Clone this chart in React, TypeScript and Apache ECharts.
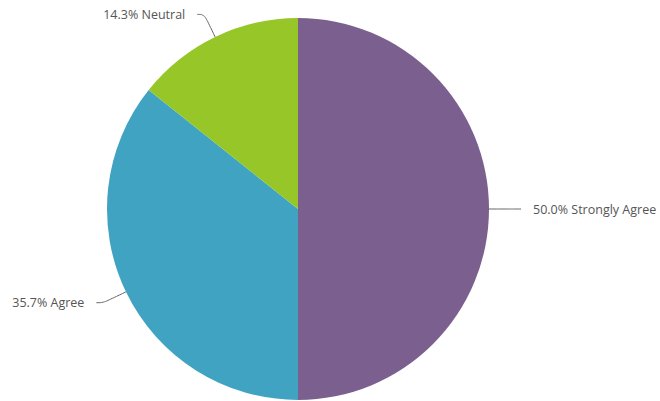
import React, { useEffect, useRef } from "react";
import * as echarts from "echarts";

const categories = ["Strongly Agree", "Agree", "Neutral"];
const values = [7, 5, 2];
const colors = ["#7B5F8E", "#40A3C2", "#96C628"];

export default function App() {
  const ref = useRef<HTMLDivElement>(null);
  useEffect(() => {
    if (!ref.current) return;
    const chart = echarts.init(ref.current, null, { renderer: "svg" });
    chart.setOption({
      animation: false,
      color: colors,
      series: [
        {
          type: "pie",
          center: [298, 209],
          radius: [0, 191],
          startAngle: 90,
          clockwise: true,
          percentPrecision: 1,
          data: categories.map((c, i) => ({ name: c, value: values[i] })),
          itemStyle: { borderWidth: 0 },
          label: {
            show: true,
            position: "outside",
            formatter: (p: any) => `${p.percent.toFixed(1)}% ${p.name}`,
            color: "#555",
            fontSize: 12.5,
            fontFamily: "Open Sans",
            distanceToLabelLine: 12,
            overflow: "none",
          },
          labelLine: {
            show: true,
            length: 25,
            length2: 7,
            smooth: 0.4,
            lineStyle: { color: "#666", width: 1 },
          },
          emphasis: { disabled: true },
        },
      ],
    });
    return () => chart.dispose();
  }, []);
  return (
    <div
      ref={ref}
      style={{ position: "absolute", left: 0, top: 0, width: 660, height: 401, background: "#fff" }}
    />
  );
}
